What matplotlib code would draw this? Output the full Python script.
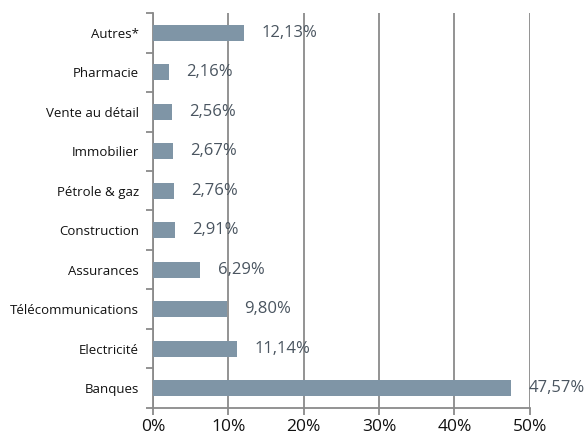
import numpy as np
import matplotlib as mpl
import matplotlib.pyplot as plt

font_name = 'Open Sans'
mpl.rc('font', family=font_name)

# bottom to top
sectors = ['Banques', 'Electricité', 'Télécommunications', 'Assurances',
           'Construction', 'Pétrole & gaz', 'Immobilier', 'Vente au détail',
           'Pharmacie', 'Autres*']
shares = [47.57, 11.14, 9.80, 6.29, 2.91, 2.76, 2.67, 2.56, 2.16, 12.13]
x_ticks = [0, 10, 20, 30, 40, 50]

bar_color = '#7f95a6'
grid_color = '#8a8a8a'
label_color = '#4a5560'

fig = plt.figure(figsize=(5.85, 4.34), dpi=100)
ax = fig.add_axes([0.2615, 0.06, 0.644, 0.91])

y = np.arange(len(sectors))
ax.barh(y, shares, height=0.4, color=bar_color, zorder=3)

for yi, v in zip(y, shares):
    ax.text(v + 2.3, yi, ('%.2f' % v).replace('.', ',') + '%',
            va='center', ha='left', fontsize=12, color=label_color, zorder=4)

ax.set_xlim(0, 50)
ax.set_ylim(-0.5, len(sectors) - 0.5)
ax.set_xticks(x_ticks)
ax.set_xticklabels(['%d%%' % t for t in x_ticks], fontsize=12.5, color='#111111')
ax.set_yticks(y)
ax.set_yticklabels(sectors, fontsize=9.5, color='#111111')
ax.set_yticks(np.arange(-0.5, len(sectors), 1), minor=True)

ax.tick_params(axis='y', which='major', length=0, pad=10)
ax.tick_params(axis='y', which='minor', length=5, color=grid_color, width=1.3)
ax.tick_params(axis='x', length=5, color=grid_color, width=1.3, pad=3)

for s in ['top', 'right']:
    ax.spines[s].set_visible(False)
for s in ['left', 'bottom']:
    ax.spines[s].set_color(grid_color)
    ax.spines[s].set_linewidth(1.3)

ax.xaxis.grid(True, color=grid_color, linewidth=1.3, zorder=0)
ax.set_axisbelow(True)

fig.savefig('out.png', dpi=100)
